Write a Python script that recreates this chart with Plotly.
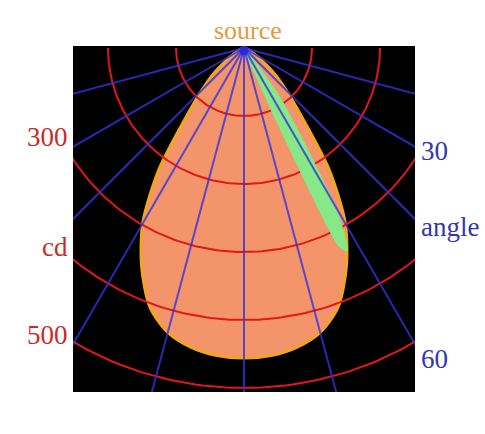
import numpy as np
import plotly.graph_objects as go

# ---- data ----
profile_angle_deg = [0, 5, 10, 15, 20, 25, 30, 35, 40, 45, 50, 55, 60, 70, 80, 90]
profile_cd = [456, 454, 447, 433, 405, 356, 298, 218, 132, 88, 58, 31, 17, 5, 1, 0]
highlight_angle_deg = [25.5, 26.9, 27.7, 29.7, 32.4, 36.5]
highlight_cd = [322, 335, 325, 276, 168, 84]
circle_cd = [100, 200, 300, 400, 500]
radial_angle_deg = [-75, -60, -45, -30, -15, 0, 15, 30, 45, 60, 75]
left_labels = ["300", "cd", "500"]
right_labels = ["30", "angle", "60"]

# ---- geometry helpers ----
def polar_xy(theta_deg, r):
    t = np.radians(np.asarray(theta_deg, dtype=float))
    r = np.asarray(r, dtype=float)
    return r * np.sin(t), -r * np.cos(t)

W, H = 485, 434
L, R, T, B = 73, 415, 46, 392  # plot area in px
px_per_cd = 0.68
src_px = (244, 48)
x_range = [(L - src_px[0]) / px_per_cd, (R - src_px[0]) / px_per_cd]
y_range = [-(B - src_px[1]) / px_per_cd, (src_px[1] - T) / px_per_cd]

def paper(px, py):
    return (px - L) / (R - L), (B - py) / (B - T)

fig = go.Figure()

# intensity distribution (mirrored profile)
ang_full = [-a for a in profile_angle_deg[::-1]] + profile_angle_deg[1:]
cd_full = profile_cd[::-1] + profile_cd[1:]
x, y = polar_xy(ang_full, cd_full)
fig.add_trace(go.Scatter(x=x, y=y, mode="lines", fill="toself",
                         fillcolor="#F4946A", line=dict(color="#F2A51E", width=3, shape="spline", smoothing=0.8),
                         hoverinfo="skip", showlegend=False))

# red iso-candela circles
th = np.linspace(-90, 90, 181)
for c in circle_cd:
    cx, cy = polar_xy(th, np.full_like(th, c))
    fig.add_trace(go.Scatter(x=cx, y=cy, mode="lines", line=dict(color="#E01818", width=2),
                             hoverinfo="skip", showlegend=False))

# green highlighted sliver
gx, gy = polar_xy([0] + highlight_angle_deg + [0], [0] + highlight_cd + [0])
fig.add_trace(go.Scatter(x=gx, y=gy, mode="lines", fill="toself", fillcolor="#86E886",
                         line=dict(color="#86E886", width=1, shape="spline", smoothing=0.5),
                         hoverinfo="skip", showlegend=False))

# blue radial lines
for a in radial_angle_deg:
    lx, ly = polar_xy([a, a], [0, 800])
    fig.add_trace(go.Scatter(x=lx, y=ly, mode="lines", line=dict(color="rgba(50,50,220,0.8)", width=2),
                             hoverinfo="skip", showlegend=False))

# source marker
fig.add_trace(go.Scatter(x=[0], y=[-4], mode="markers", marker=dict(color="#2828E0", size=9),
                         hoverinfo="skip", showlegend=False))

font_family = "Liberation Serif, Times New Roman, serif"
ann = []
sx, sy = paper(248, 30)
ann.append(dict(text="source", x=sx, y=sy, xanchor="center", yanchor="middle",
                font=dict(family=font_family, size=26, color="#E8983C")))
for txt, py in zip(left_labels, [137, 247, 335]):
    ax, ay = paper(70, py)
    ann.append(dict(text=txt, x=ax, y=ay, xanchor="right", yanchor="middle",
                    font=dict(family=font_family, size=27, color="#CC2A2A")))
for txt, py in zip(right_labels, [151, 227, 359]):
    ax, ay = paper(419, py)
    ann.append(dict(text=txt, x=ax, y=ay, xanchor="left", yanchor="middle",
                    font=dict(family=font_family, size=27, color="#3636B0")))
for a in ann:
    a.update(xref="paper", yref="paper", showarrow=False)

fig.update_layout(width=W, height=H, margin=dict(l=L, r=W - R, t=T, b=H - B),
                  paper_bgcolor="white", plot_bgcolor="black",
                  xaxis=dict(range=x_range, visible=False, fixedrange=True),
                  yaxis=dict(range=y_range, visible=False, fixedrange=True),
                  annotations=ann, showlegend=False, hovermode=False)
fig.write_html("out.html", config={"displayModeBar": False, "staticPlot": True},
               post_script="document.body.style.margin='0';document.body.style.overflow='hidden';")
